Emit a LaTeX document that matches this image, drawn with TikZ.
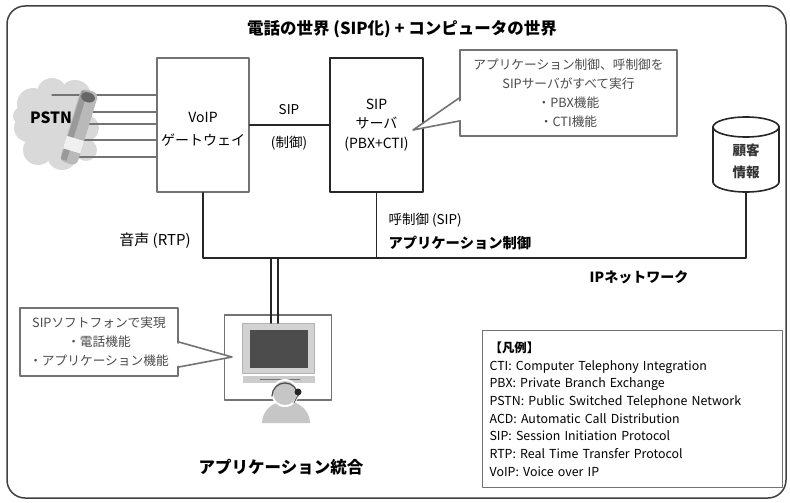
\documentclass[tikz,border=0pt]{standalone}
\usepackage{fontspec}
\setmainfont{Noto Sans CJK JP}
\usetikzlibrary{positioning}

\tikzset{
  grayframe/.style={draw=black!55, line width=1.6pt, fill=white},
  srvframe/.style={draw=black!85, line width=1.8pt, fill=white},
  net/.style={draw=black!85, line width=1.8pt},
  callline/.style={draw=black!55, line width=1.6pt},
  calltext/.style={text=black!70, font=\fontsize{12.7}{19}\selectfont, align=center},
  boxtext/.style={font=\fontsize{14}{23}\selectfont, align=center},
  lbl/.style={font=\fontsize{13.5}{22}\selectfont, align=left},
}

\begin{document}
\begin{tikzpicture}[x=1pt, y=-1pt, line join=round, line cap=round]
  \useasboundingbox (0,0) rectangle (790,503);
  % outer frame
  \draw[draw=black!75, line width=1.5pt, rounded corners=18pt] (7,6) rectangle (786,498);

  \node[font=\fontsize{16.5}{18}\selectfont\bfseries] (title) at (402,29) {電話の世界 (SIP化) + コンピュータの世界};

  % PSTN cloud
  \foreach \cx/\cy/\r in {33/104/16, 52/93/15, 75/96/16, 28/128/14, 86/128/13, 38/150/15, 62/155/15, 55/125/26, 86/150/11, 22/116/9}
    \fill[gray!30] (\cx,\cy) circle (\r);
  \node[font=\fontsize{15.5}{16}\selectfont\bfseries] (pstn) at (51,118) {PSTN};

  % main boxes
  \node[grayframe, minimum width=92pt, minimum height=134pt, boxtext] (gw) at (203,125) {};
  \node[boxtext] (gwtext) at (203,129) {VoIP\\ゲートウェイ};
  \node[srvframe, minimum width=93pt, minimum height=134pt, boxtext, font=\fontsize{14}{19.5}\selectfont] (srv) at (376.5,125) {SIP\\サーバ\\(PBX+CTI)};

  % trunk lines into the gateway
  \foreach \y/\x in {95/52, 112/82, 124/84, 140/82, 157/76}
    \draw[black!55, line width=1.3pt] (\x,\y) -- (gw.west |- 0,\y);

  % handset
  \begin{scope}[shift={(79,127)}, rotate=-17]
    \fill[gray!55, rounded corners=6pt] (-9,-38) rectangle (9,38);
    \fill[gray!80] (-8,-36) rectangle (-2,36);
    \fill[black!60] (0,-31) ellipse (7 and 5);
    \fill[gray!12] (-9,12) rectangle (9,25);
  \end{scope}

  % SIP link
  \draw[net] (gw.east) -- (srv.west);
  \node[lbl] (siplbl) at (289,110) {SIP};
  \node[lbl] (ctllbl) at (289,143) {(制御)};

  % server callout
  \node[grayframe, minimum width=217pt, minimum height=86pt, calltext] (srvnote) at (568.5,93) {アプリケーション制御、呼制御を\\SIPサーバがすべて実行\\・PBX機能\\・CTI機能};
  \fill[white] (463,99.5) -- (413,130) -- (463,119.5) -- cycle;
  \draw[callline] (srvnote.west |- 0,98) -- (413,130) -- (srvnote.west |- 0,121);

  % customer database
  \coordinate (db) at (746,192);
  \draw[draw=black!85, line width=1.6pt, fill=white] (713,127) -- (713,182) arc[start angle=180, end angle=0, x radius=33, y radius=10] -- (779,127);
  \draw[draw=black!85, line width=1.6pt, fill=white] (746,127) ellipse (33 and 10);
  \node[boxtext, font=\fontsize{13.5}{22}\selectfont\bfseries, text=black!80] (dbtext) at (746,161) {顧客\\情報};

  % IP network
  \coordinate (bus) at (0,258);
  \draw[net] (gw.south) -- (gw.south |- bus) -- (db |- bus) -- (db);
  \draw[net] (srv.south) -- (srv.south |- bus);
  \node[lbl, font=\fontsize{15}{22}\selectfont] (rtp) at (155,241) {音声 (RTP)};
  \node[lbl, anchor=west] (callctl) at (385,220) {呼制御 (SIP)};
  \node[lbl, anchor=west, font=\fontsize{14.3}{22}\selectfont\bfseries] (appctl) at (385,243) {アプリケーション制御};
  \node[lbl, font=\fontsize{14}{22}\selectfont\bfseries] (ipnet) at (639,277) {IPネットワーク};

  % client PC
  \node[grayframe, minimum width=107pt, minimum height=85pt] (pc) at (278,357.5) {};
  \fill[gray!35] (242,323) rectangle (314,373);
  \draw[gray!60, line width=0.8pt] (242,323) rectangle (314,373);
  \fill[black!70] (250,330) rectangle (308,368);
  \fill[gray!40] (243,376) rectangle (315,383);
  \draw[black!55, line width=0.5pt] (260,379.5) -- (300,379.5);
  \draw[net] (271,258) -- (271,323);
  \draw[net] (278,258) -- (278,323);

  % operator
  \fill[gray!45] (262,423) arc[start angle=180, end angle=360, x radius=24, y radius=22] -- cycle;
  \fill[white] (285,393) circle (14);
  \fill[gray!45] (285,393) circle (12);
  \draw[black!70, line width=1.2pt] (272,396) arc[start angle=180, end angle=360, radius=13];
  \fill[black!85] (298,392) circle (3.5);
  \draw[black!70, line width=0.8pt] (298,395) -- (294,403);

  % softphone callout
  \node[grayframe, minimum width=158pt, minimum height=68pt, calltext] (pcnote) at (99,342) {SIPソフトフォンで実現\\・電話機能\\・アプリケーション機能};
  \fill[white] (176,343) -- (232,357) -- (176,366) -- cycle;
  \draw[callline] (pcnote.east |- 0,342) -- (232,357) -- (pcnote.east |- 0,367);
  \node[lbl, font=\fontsize{16.5}{22}\selectfont\bfseries] (appint) at (281,467) {アプリケーション統合};

  % legend
  \node[draw=black!55, line width=1.2pt, fill=white, anchor=north west, minimum width=300pt, minimum height=157pt, text width=286pt, align=left, inner sep=7pt, font=\fontsize{12.4}{17.7}\selectfont] (legend) at (482,330) {\textbf{【凡例】}\\CTI: Computer Telephony Integration\\PBX: Private Branch Exchange\\PSTN: Public Switched Telephone Network\\ACD: Automatic Call Distribution\\SIP: Session Initiation Protocol\\RTP: Real Time Transfer Protocol\\VoIP: Voice over IP};
\end{tikzpicture}
\end{document}
